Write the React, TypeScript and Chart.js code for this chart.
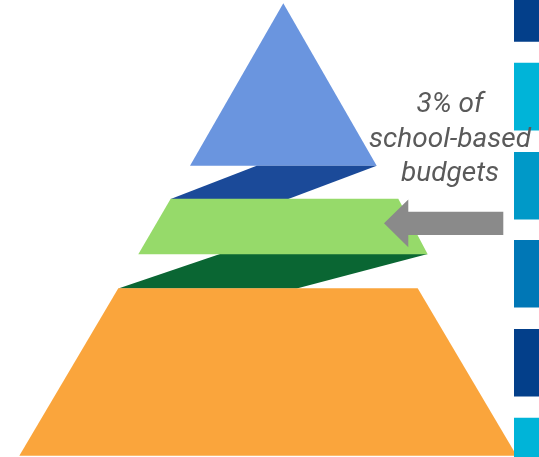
import React, { useEffect, useRef } from "react";
import { Chart, registerables } from "chart.js";

Chart.register(...registerables);

// Pyramid tiers (vertices in diagram units: x across, y down)
const apexTier = [
  { x: 283.3, y: 3.3 },
  { x: 376.7, y: 165.7 },
  { x: 190, y: 165.7 },
];
const upperBand = [
  { x: 256.7, y: 165.7 },
  { x: 376.7, y: 165.7 },
  { x: 288.3, y: 198.9 },
  { x: 170.7, y: 198.9 },
];
const middleTier = [
  { x: 170.7, y: 198.7 },
  { x: 398.3, y: 198.7 },
  { x: 427.7, y: 254.3 },
  { x: 138.3, y: 254.3 },
];
const lowerBand = [
  { x: 220, y: 254.1 },
  { x: 427.7, y: 254.1 },
  { x: 296.7, y: 288.5 },
  { x: 118.3, y: 288.5 },
];
const baseTier = [
  { x: 118.3, y: 288.3 },
  { x: 417.7, y: 288.3 },
  { x: 516.7, y: 455.7 },
  { x: 19.3, y: 455.7 },
];
// Callout arrow
const arrowShape = [
  { x: 384, y: 223.3 },
  { x: 408.3, y: 199.4 },
  { x: 408.3, y: 211.7 },
  { x: 503.3, y: 211.7 },
  { x: 503.3, y: 235 },
  { x: 408.3, y: 235 },
  { x: 408.3, y: 247.3 },
];
// Side blocks: [top, bottom]
const blockRanges = [
  [0, 41.7],
  [62.7, 130.5],
  [152, 219.5],
  [240, 307.5],
  [329, 396.5],
  [417.7, 457],
];
const blockColors = ["#033f8a", "#00b4d8", "#0099c8", "#0077b6", "#033f8a", "#00b4d8"];
const blockX = [514, 540];

const calloutLines = ["3% of", "school-based", "budgets"];
const calloutBaselines = [112, 147, 181];
const calloutX = 450;

// listed bottom-most first
const shapes = [
  { data: apexTier, color: "#6a95df" },
  { data: upperBand, color: "#1b4a99" },
  { data: lowerBand, color: "#0a6633" },
  { data: baseTier, color: "#faa53c" },
  { data: middleTier, color: "#96da6a" },
  { data: arrowShape, color: "#8a8a8a" },
  ...blockRanges.map((r, i) => ({
    data: [
      { x: blockX[0], y: r[0] },
      { x: blockX[1], y: r[0] },
      { x: blockX[1], y: r[1] },
      { x: blockX[0], y: r[1] },
    ],
    color: blockColors[i],
  })),
];

const calloutPlugin = {
  id: "callout",
  afterDatasetsDraw(chart: any) {
    const { ctx, scales } = chart;
    ctx.save();
    ctx.font = "italic 28px Roboto";
    ctx.fillStyle = "#5a5a5a";
    ctx.textAlign = "center";
    ctx.textBaseline = "alphabetic";
    calloutLines.forEach((t, i) => {
      ctx.fillText(
        t,
        scales.x.getPixelForValue(calloutX),
        scales.y.getPixelForValue(calloutBaselines[i])
      );
    });
    ctx.restore();
  },
};

export default function App() {
  const ref = useRef<HTMLCanvasElement>(null);
  useEffect(() => {
    document.body.style.margin = "0";
    const chart = new Chart(ref.current!, {
      type: "scatter",
      data: {
        datasets: shapes.map((s, i) => ({
          type: "line",
          data: s.data,
          order: shapes.length - i,
          showLine: true,
          fill: "shape",
          backgroundColor: s.color,
          borderColor: "transparent",
          borderWidth: 0,
          pointRadius: 0,
          tension: 0,
        })) as any,
      },
      options: {
        animation: false,
        responsive: true,
        maintainAspectRatio: false,
        layout: { padding: 0 },
        plugins: { legend: { display: false }, tooltip: { enabled: false } },
        scales: {
          x: { type: "linear", min: 0, max: 539, display: false },
          y: { type: "linear", min: 0, max: 457, reverse: true, display: false },
        },
      },
      plugins: [calloutPlugin],
    });
    return () => chart.destroy();
  }, []);
  return (
    <div style={{ position: "absolute", left: 0, top: 0, width: 539, height: 457 }}>
      <canvas ref={ref} />
    </div>
  );
}
